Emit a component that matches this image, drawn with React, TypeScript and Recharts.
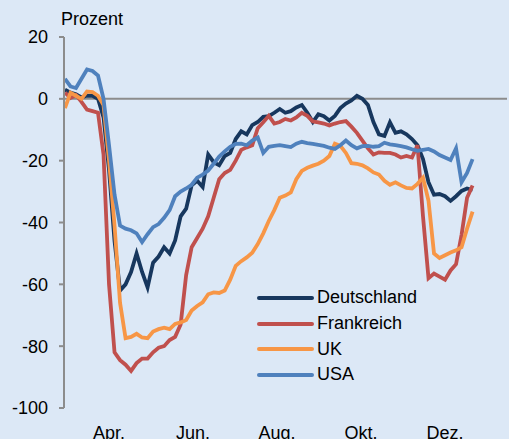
import { Line, LineChart, ReferenceLine, XAxis, YAxis } from "recharts";

// day of year (0 = 1 Jan), sampled every 4 days
const days = [
  59, 63, 67, 71, 75, 79, 83, 87, 91, 95, 99, 103, 107, 111, 115, 119, 123, 127, 131, 135, 139,
  143, 147, 151, 155, 159, 163, 167, 171, 175, 179, 183, 187, 191, 195, 199, 203, 207, 211, 215,
  219, 223, 227, 231, 235, 239, 243, 247, 251, 255, 259, 263, 267, 271, 275, 279, 283, 287, 291,
  295, 299, 303, 307, 311, 315, 319, 323, 327, 331, 335, 339, 343, 347, 351, 355,
];

const deutschland = [
  3, 2, 1.5, 0.5, 1, 1, 0, -6, -23, -46, -62, -60, -56, -50, -56, -61, -53, -51, -48, -50, -45.8,
  -38, -35.5, -28, -26.5, -28.5, -18, -20.5, -21.5, -18.5, -17.5, -13, -10.5, -11.5, -8.5, -7.5,
  -5.8, -5.6, -4.5, -3.3, -4.5, -4, -2.8, -2, -4.5, -7.5, -5, -5.6, -7, -5.5, -3, -1.5, -0.5, 1, 0,
  -2, -7.5, -11.5, -12, -7.6, -11, -10.5, -11.5, -13, -15, -19.5, -27, -31, -30.8, -31.5, -33,
  -31.5, -29.8, -29, -29.5,
];

const frankreich = [
  2, 0.3, 1.2, -1, -3.5, -4, -4.5, -18, -60, -82, -84.5, -86, -88, -85.5, -84, -84, -82, -80.5, -80,
  -78, -77, -73, -57, -48, -45, -42, -38, -32, -26, -24, -23, -20, -16.5, -15.7, -15, -9.5, -7.6,
  -5.5, -8, -7.5, -6.5, -7, -6, -4.5, -5.5, -7.3, -7.6, -8, -8.6, -8, -7.5, -7.2, -9, -11, -13.5,
  -16, -18, -17.3, -17.5, -17.5, -18, -19, -18.5, -19, -15, -38, -58, -56.5, -57.5, -58.5, -55.5,
  -53.5, -44, -32, -28,
];

const uk = [
  -3, 2, 1, 0, 2.4, 2.2, 1, -2, -20, -41, -66, -77.4, -77, -76, -77.2, -77.4, -75.3, -74.5, -74,
  -74.5, -72.8, -72.3, -71.5, -68.5, -67, -65.8, -63.2, -62.6, -62.8, -62, -58.5, -54, -52.5, -51.3,
  -49.8, -47, -43.5, -39.5, -36, -32, -31.3, -30.3, -26, -23.3, -22.3, -21.6, -21, -20, -18.5,
  -14.5, -15.2, -17.5, -20.8, -21, -21.5, -22.5, -23.8, -24.5, -26.5, -27.8, -27, -28, -28.8, -29,
  -27.5, -25.5, -33, -50, -51.5, -50.6, -49.7, -49, -48, -42, -36.5,
];

const usa = [
  6.5, 4, 3.5, 6.5, 9.5, 9, 7.5, 0, -15, -31, -41, -42, -42.5, -43.5, -46.3, -43.8, -41.5, -40.5,
  -38.5, -36, -31.5, -30, -29, -27.8, -25.5, -24.5, -23.2, -21, -18.7, -17, -15.5, -14.6, -14.5,
  -15, -13.5, -12.5, -17.5, -15.5, -15.2, -15, -15.3, -15.6, -14.5, -13.9, -14.3, -14.6, -14.9,
  -15.2, -15.8, -16.2, -15, -13.5, -15, -16, -15.3, -15.2, -15.5, -15.3, -14.2, -14.7, -15, -15.3,
  -15.7, -16.3, -16.8, -16.5, -16.2, -17, -18.2, -19, -19.8, -16, -27, -24, -19.5,
];

const monthTicks = [91, 152, 213, 274, 335];
const monthLabels = ["Apr.", "Jun.", "Aug.", "Okt.", "Dez."];
const yTicks = [-100, -80, -60, -40, -20, 0, 20];

const series = [
  { key: "de", name: "Deutschland", color: "#17375e" },
  { key: "fr", name: "Frankreich", color: "#c0504d" },
  { key: "uk", name: "UK", color: "#f79646" },
  { key: "us", name: "USA", color: "#4f81bd" },
];

const data = days.map((day, i) => ({
  day,
  de: deutschland[i],
  fr: frankreich[i],
  uk: uk[i],
  us: usa[i],
}));

const FONT = "'Liberation Sans', Arial, sans-serif";
const FS = 18;

// legend sits inside the plot, so it is an overlay rather than a <Legend> (which would steal height)
function LegendBox() {
  return (
    <div
      style={{
        position: "absolute",
        left: 257,
        top: 285,
        fontFamily: FONT,
        fontSize: FS,
        color: "#000",
      }}
    >
      {series.map((s) => (
        <div key={s.key} style={{ display: "flex", alignItems: "center", height: 25.7 }}>
          <svg width={60} height={8}>
            <line x1={2} y1={4} x2={55} y2={4} stroke={s.color} strokeWidth={4} strokeLinecap="round" />
          </svg>
          <span>{s.name}</span>
        </div>
      ))}
    </div>
  );
}

export default function App() {
  return (
    <div
      style={{
        position: "fixed",
        left: 0,
        top: 0,
        width: 509,
        height: 439,
        background: "#dce8f6",
        overflow: "hidden",
      }}
    >
      <div
        style={{
          position: "absolute",
          left: 61,
          top: 8,
          fontFamily: FONT,
          fontSize: FS,
          lineHeight: "22px",
          color: "#000",
        }}
      >
        Prozent
      </div>
      <LineChart
        width={509}
        height={439}
        data={data}
        margin={{ top: 37, right: 2, bottom: 0, left: 0 }}
      >
        <XAxis
          dataKey="day"
          type="number"
          domain={[58.3, 380]}
          allowDataOverflow
          ticks={monthTicks}
          tickFormatter={(v: number) => monthLabels[monthTicks.indexOf(v)] ?? ""}
          axisLine={false}
          tickLine={false}
          tickMargin={12}
          height={31}
          tick={{ fill: "#000", fontSize: FS, fontFamily: FONT }}
          interval={0}
        />
        <YAxis
          domain={[-100, 20]}
          ticks={yTicks}
          width={64}
          interval={0}
          axisLine={{ stroke: "#8c8c8c", strokeWidth: 2 }}
          tickLine={{ stroke: "#8c8c8c", strokeWidth: 2 }}
          tickSize={5}
          tickMargin={11}
          tick={{ fill: "#000", fontSize: FS, fontFamily: FONT }}
        />
        <ReferenceLine y={0} stroke="#8c8c8c" strokeWidth={2} />
        {series.map((s) => (
          <Line
            key={s.key}
            type="linear"
            dataKey={s.key}
            name={s.name}
            stroke={s.color}
            strokeWidth={3.8}
            dot={false}
            isAnimationActive={false}
          />
        ))}
      </LineChart>
      <LegendBox />
    </div>
  );
}
